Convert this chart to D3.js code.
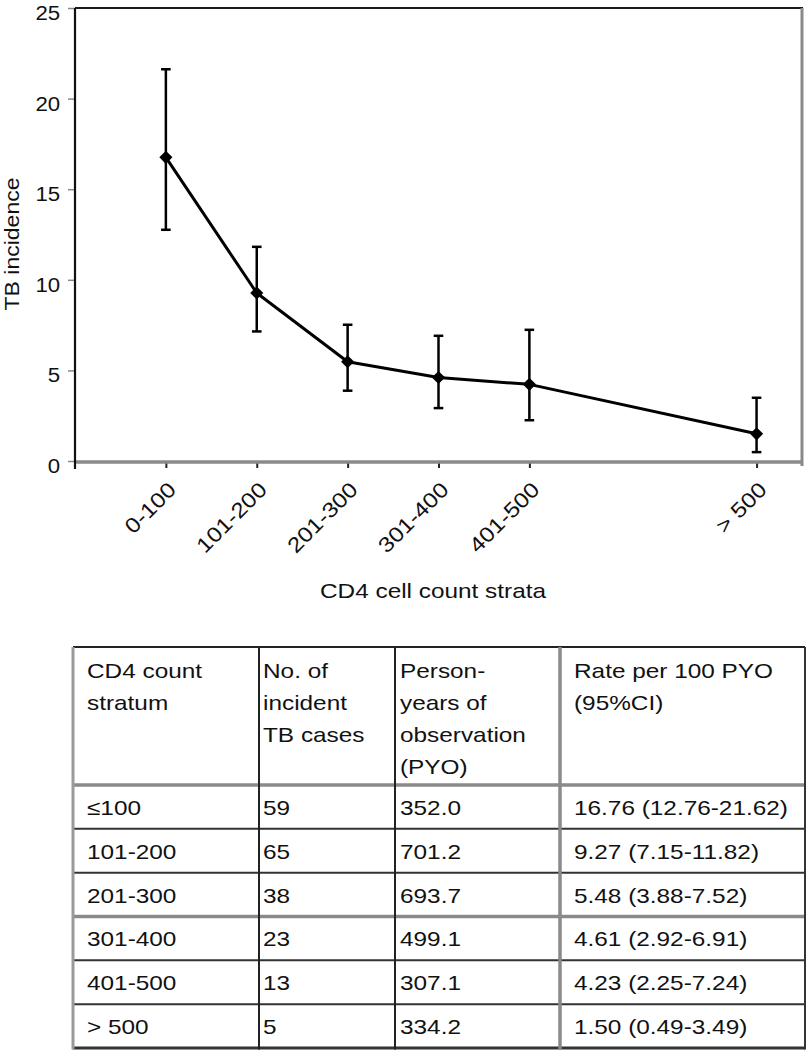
<!DOCTYPE html>
<html>
<head>
<meta charset="utf-8">
<script src="https://cdn.jsdelivr.net/npm/d3@7"></script>
<style>
  html, body { margin: 0; padding: 0; background: #fff; }
  svg { display: block; }
  text { font-family: "Liberation Sans", Arial, Helvetica, sans-serif; fill: #111; }
</style>
</head>
<body>
<script>
// ---------- data ----------
const categories = ["0-100", "101-200", "201-300", "301-400", "401-500", "> 500"];
const xPositions = [50, 150, 250, 350, 450, 700];
const rates = [16.76, 9.27, 5.48, 4.61, 4.23, 1.50];
const ciLower = [12.76, 7.15, 3.88, 2.92, 2.25, 0.49];
const ciUpper = [21.62, 11.82, 7.52, 6.91, 7.24, 3.49];
const yTicks = [0, 5, 10, 15, 20, 25];

const tableStrata = ["\u2264100", "101-200", "201-300", "301-400", "401-500", "> 500"];
const tableCases = [59, 65, 38, 23, 13, 5];
const tablePYO = ["352.0", "701.2", "693.7", "499.1", "307.1", "334.2"];
const headerLines = [
  ["CD4 count", "stratum"],
  ["No. of", "incident", "TB cases"],
  ["Person-", "years of", "observation", "(PYO)"],
  ["Rate per 100 PYO", "(95%CI)"]
];

const W = 807, H = 1050;
const SX = 1.16; // horizontal glyph stretch seen in the reference

const svg = d3.select("body").append("svg")
  .attr("width", W).attr("height", H)
  .attr("viewBox", `0 0 ${W} ${H}`);

// ---------- chart ----------
const plot = { left: 75, right: 802, top: 8, bottom: 461 };
const x = d3.scaleLinear().domain([-50, 750]).range([plot.left, plot.right]);
const y = d3.scaleLinear().domain([0, 25]).range([plot.bottom, plot.top]);

const pts = categories.map((c, i) => ({
  cat: c, x: xPositions[i], v: rates[i], lo: ciLower[i], hi: ciUpper[i]
}));

// frame: top (dark) and right (gray)
svg.append("line").attr("x1", plot.left).attr("x2", plot.right + 1)
  .attr("y1", plot.top).attr("y2", plot.top)
  .attr("stroke", "#1a1a1a").attr("stroke-width", 2);
svg.append("line").attr("x1", plot.right).attr("x2", plot.right)
  .attr("y1", plot.top).attr("y2", plot.bottom + 5)
  .attr("stroke", "#8a8a8a").attr("stroke-width", 3);

// y axis
const yAxis = d3.axisLeft(y).tickValues(yTicks).tickSize(7).tickPadding(7)
  .tickFormat(d3.format("d"));
const gy = svg.append("g").attr("transform", `translate(${plot.left},0)`).call(yAxis);
gy.select(".domain").remove();
gy.selectAll(".tick line").attr("stroke", "#888").attr("stroke-width", 1.5);
gy.selectAll(".tick text")
  .attr("font-size", 21).attr("fill", "#111")
  .attr("dy", "0.55em")
  .attr("transform", "scale(1.06,1)")
  .style("font-family", "'Liberation Sans', Arial, sans-serif");

// x axis
const xAxis = d3.axisBottom(x).tickValues(xPositions).tickSize(7)
  .tickFormat((d, i) => categories[i]);
const gx = svg.append("g").attr("transform", `translate(0,${plot.bottom})`).call(xAxis);
gx.select(".domain").remove();
gx.selectAll(".tick line").attr("stroke", "#222").attr("stroke-width", 2);
gx.selectAll(".tick text")
  .attr("font-size", 21).attr("fill", "#111")
  .attr("text-anchor", "end")
  .attr("x", 0).attr("y", 0).attr("dy", 0)
  .attr("transform", `translate(11,30) rotate(-45) scale(${SX},1)`)
  .style("font-family", "'Liberation Sans', Arial, sans-serif");

// bottom axis line (gray, thick) and left axis (black)
svg.append("line").attr("x1", plot.left).attr("x2", plot.right + 1)
  .attr("y1", plot.bottom + 1).attr("y2", plot.bottom + 1)
  .attr("stroke", "#8a8a8a").attr("stroke-width", 3.5);
svg.append("line").attr("x1", plot.left).attr("x2", plot.left)
  .attr("y1", plot.top).attr("y2", plot.bottom + 8)
  .attr("stroke", "#111").attr("stroke-width", 2.2);

// error bars
const eb = svg.append("g").attr("class", "errorbars");
eb.selectAll("line.v").data(pts).join("line").attr("class", "v")
  .attr("x1", d => x(d.x)).attr("x2", d => x(d.x))
  .attr("y1", d => y(d.lo)).attr("y2", d => y(d.hi))
  .attr("stroke", "#000").attr("stroke-width", 2.5);
eb.selectAll("line.capHi").data(pts).join("line").attr("class", "capHi")
  .attr("x1", d => x(d.x) - 4.8).attr("x2", d => x(d.x) + 4.8)
  .attr("y1", d => y(d.hi)).attr("y2", d => y(d.hi))
  .attr("stroke", "#000").attr("stroke-width", 2.5);
eb.selectAll("line.capLo").data(pts).join("line").attr("class", "capLo")
  .attr("x1", d => x(d.x) - 4.8).attr("x2", d => x(d.x) + 4.8)
  .attr("y1", d => y(d.lo)).attr("y2", d => y(d.lo))
  .attr("stroke", "#000").attr("stroke-width", 2.5);

// line
const line = d3.line().x(d => x(d.x)).y(d => y(d.v));
svg.append("path").datum(pts).attr("d", line)
  .attr("fill", "none").attr("stroke", "#000").attr("stroke-width", 3)
  .attr("stroke-linejoin", "round");

// diamond markers
const diamond = d3.symbol().type(d3.symbolDiamond2).size(110);
svg.append("g").selectAll("path").data(pts).join("path")
  .attr("d", diamond)
  .attr("transform", d => `translate(${x(d.x)},${y(d.v)})`)
  .attr("fill", "#000");

// axis titles
svg.append("text")
  .attr("transform", `translate(19,244) rotate(-90) scale(1.15,1)`)
  .attr("text-anchor", "middle").attr("font-size", 20)
  .text("TB incidence");
svg.append("text")
  .attr("transform", `translate(433,598) scale(${SX},1)`)
  .attr("text-anchor", "middle").attr("font-size", 21)
  .text("CD4 cell count strata");

// ---------- table ----------
const colX = [73, 259, 395, 560, 805];
const textX = [87, 263, 400, 574];
const tTop = 647, headBottom = 785, tBottom = 1048;
const rowH = (tBottom - headBottom) / tableStrata.length;

const rowsData = tableStrata.map((s, i) => [
  s, String(tableCases[i]), tablePYO[i],
  `${rates[i].toFixed(2)} (${ciLower[i].toFixed(2)}-${ciUpper[i].toFixed(2)})`
]);

const tg = svg.append("g").attr("class", "table");

// horizontal lines
const hLines = [
  { y: tTop, c: "#222", w: 2 },
  { y: headBottom, c: "#8a8a8a", w: 3.5 },
];
for (let i = 1; i < tableStrata.length; i++) {
  const yy = headBottom + i * rowH;
  hLines.push(i === 3 ? { y: yy, c: "#8a8a8a", w: 3.5 } : { y: yy, c: "#333", w: 2 });
}
hLines.push({ y: tBottom, c: "#333", w: 3 });
tg.selectAll("line.h").data(hLines).join("line").attr("class", "h")
  .attr("x1", colX[0]).attr("x2", colX[4])
  .attr("y1", d => d.y).attr("y2", d => d.y)
  .attr("stroke", d => d.c).attr("stroke-width", d => d.w);

// vertical lines
const vLines = [
  { x: colX[0], c: "#9a9a9a", w: 3 },
  { x: colX[1], c: "#222", w: 2 },
  { x: colX[2], c: "#222", w: 2 },
  { x: colX[3], c: "#8a8a8a", w: 3.5 },
  { x: colX[4], c: "#333", w: 2 }
];
tg.selectAll("line.v").data(vLines).join("line").attr("class", "v")
  .attr("x1", d => d.x).attr("x2", d => d.x)
  .attr("y1", tTop).attr("y2", tBottom + 1.5)
  .attr("stroke", d => d.c).attr("stroke-width", d => d.w);

// header text
headerLines.forEach((lines, ci) => {
  lines.forEach((t, li) => {
    tg.append("text")
      .attr("transform", `translate(${textX[ci]},${678 + li * 32}) scale(${SX},1)`)
      .attr("font-size", 21)
      .text(t);
  });
});

// body text
rowsData.forEach((row, ri) => {
  const base = headBottom + ri * rowH + rowH / 2 + 8;
  row.forEach((t, ci) => {
    tg.append("text")
      .attr("transform", `translate(${textX[ci]},${base}) scale(${SX},1)`)
      .attr("font-size", 21)
      .text(t);
  });
});
</script>
</body>
</html>
